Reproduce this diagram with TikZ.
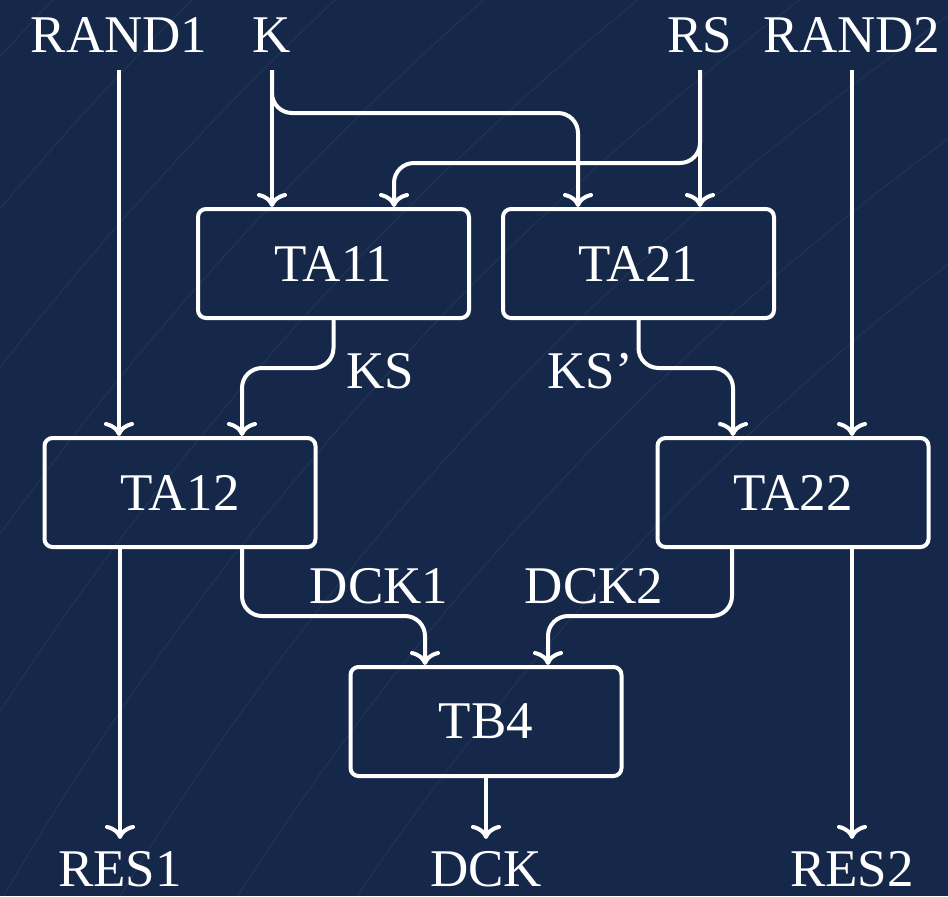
\documentclass[tikz,border=0pt]{standalone}
\usepackage{fontspec}
\setmainfont{Liberation Serif}
\usepackage{tikz}
\usetikzlibrary{arrows.meta}
\definecolor{navybg}{HTML}{15284A}
\tikzset{>={Computer Modern Rightarrow[length=7pt,width=15pt]}}
\tikzset{
    block/.style={draw=white, line width=2pt, rounded corners=4pt,
        minimum width=135.5pt, minimum height=54.5pt, text=white},
    sig/.style={text=white, inner sep=0pt, outer sep=9pt, text depth=0pt, anchor=base},
    wire/.style={white, line width=2pt, ->, rounded corners=10pt}
}

\begin{document}
\begin{tikzpicture}[x=0.5pt,y=-0.5pt,font=\fontsize{26.5}{30}\selectfont]
    \fill[navybg] (0,0) rectangle (948,896);
    \useasboundingbox (0,0) rectangle (948,896);
    \begin{scope}
        \clip (0,0) rectangle (948,896);
        \foreach \r in {1350,1400,...,1750}
            \draw[white,opacity=.05,line width=.6pt] (2600,2400) circle[radius=\r pt];
    \end{scope}

    \node[sig] (rand1) at (119,52) {RAND1};
    \node[sig] (k) at (272,52) {K};
    \node[sig] (rs) at (700,52) {RS};
    \node[sig] (rand2) at (852,52) {RAND2};

    \node[block] (ta11) at (333.5,263.5) {TA11};
    \node[block] (ta21) at (638.5,263.5) {TA21};
    \node[block] (ta12) at (180,492.5) {TA12};
    \node[block] (ta22) at (793,492.5) {TA22};
    \node[block] (tb4) at (486,721.5) {TB4};

    \node[sig] (ks) at (380,388) {KS};
    \node[sig] (ksp) at (590,388) {KS'};
    \node[sig] (dck1) at (379,603) {DCK1};
    \node[sig] (dck2) at (594,603) {DCK2};

    \node[sig,outer sep=6pt] (res1) at (120,886) {RES1};
    \node[sig,outer sep=6pt] (dck) at (486,886) {DCK};
    \node[sig,outer sep=6pt] (res2) at (852,886) {RES2};

    \draw[wire] (rand1.south) -- (rand1.south |- ta12.north);
    \draw[wire] (res1.north |- ta12.south) -- (res1.north);
    \draw[wire] (rand2.south) -- (rand2.south |- ta22.north);
    \draw[wire] (res2.north |- ta22.south) -- (res2.north);
    \draw[wire] (k.south) -- (k.south |- ta11.north);
    \draw[wire] (k.south) -- ++(0,-21.5pt) -| ([xshift=-30.25pt]ta21.north);
    \draw[wire] (rs.south) -- (rs.south |- ta21.north);
    \draw[wire] (rs.south) -- ++(0,-46.5pt) -| ([xshift=30.25pt]ta11.north);
    \draw[wire] (ta11.south) -- ++(0,-24pt) -| ([xshift=31pt]ta12.north);
    \draw[wire] (ta21.south) -- ++(0,-24pt) -| ([xshift=-30pt]ta22.north);
    \draw[wire] ([xshift=31pt]ta12.south) -- ++(0,-33.5pt) -| ([xshift=-30.5pt]tb4.north);
    \draw[wire] ([xshift=-30.5pt]ta22.south) -- ++(0,-33.5pt) -| ([xshift=31pt]tb4.north);
    \draw[wire] (tb4.south) -- (dck.north);
\end{tikzpicture}
\end{document}
